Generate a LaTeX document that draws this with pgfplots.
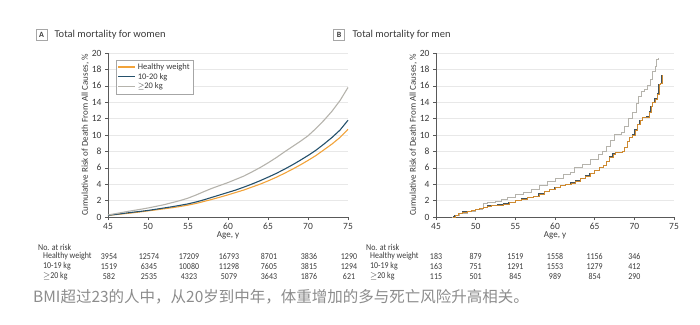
\documentclass[border=0pt]{standalone}
\usepackage{pgfplots}
\pgfplotsset{compat=1.18}
\usepackage{fontspec}
\setmainfont{Carlito}
\newfontfamily\condfont[FakeStretch=0.88]{Carlito}
\newfontfamily\cjk{Noto Sans CJK SC}
\definecolor{cHW}{HTML}{F2A33A}
\definecolor{cMid}{HTML}{24506B}
\definecolor{cHi}{HTML}{B5B3AC}
\definecolor{txt}{HTML}{3A3A3A}
\pgfplotsset{
  base/.style={
    scale only axis, width=240pt, height=164pt,
    xmin=45, xmax=75, ymin=0, ymax=20,
    xtick={45,50,...,75}, ytick={0,2,...,20},
    axis x line*=bottom, axis y line*=left,
    ymajorgrids, grid style={gray!18, line width=0.5pt},
    tick align=outside, major tick length=3pt,
    every tick/.style={gray!70!black, line width=0.5pt},
    axis line style={gray!70!black, line width=0.5pt},
    tick label style={font=\fontsize{9.5}{10}\selectfont, text=txt},
    /pgf/number format/assume math mode=true,
    xlabel={Age, y}, ylabel={Cumulative Risk of Death From All Causes, \%},
    label style={font=\fontsize{9}{10}\selectfont, text=txt},
    xlabel style={yshift=5pt},
    ylabel style={yshift=-4pt},
    clip=false,
  }
}
\begin{document}
\begin{tikzpicture}[x=1pt,y=1pt]
\path[use as bounding box] (0,0) rectangle (700,-324);
% Panel A
\begin{axis}[base, at={(108pt,-217pt)}, anchor=south west,
  legend style={at={(0.033,0.96)}, anchor=north west, draw=gray!70, font=\fontsize{8.5}{9}\selectfont, text=txt, inner sep=1.5pt, row sep=-1.5pt},
  legend cell align=left]
\addplot[cHW, line width=1.1pt] coordinates {(45,0.2)(46,0.3)(47,0.4)(48,0.5)(49,0.62)(50,0.75)(51,0.87)(52,1.0)(53,1.13)(54,1.28)(55,1.45)(56,1.65)(57,1.9)(58,2.15)(59,2.42)(60,2.7)(61,3.0)(62,3.3)(63,3.65)(64,4.0)(65,4.4)(66,4.83)(67,5.3)(68,5.8)(69,6.33)(70,6.9)(71,7.5)(72,8.2)(73,8.9)(74,9.7)(75,10.7)};
\addlegendentry{Healthy weight}
\addplot[cMid, line width=1.1pt] coordinates {(45,0.2)(46,0.32)(47,0.45)(48,0.57)(49,0.68)(50,0.8)(51,0.95)(52,1.1)(53,1.25)(54,1.42)(55,1.6)(56,1.83)(57,2.1)(58,2.4)(59,2.7)(60,3.0)(61,3.3)(62,3.65)(63,4.02)(64,4.42)(65,4.85)(66,5.3)(67,5.8)(68,6.33)(69,6.9)(70,7.5)(71,8.15)(72,8.9)(73,9.7)(74,10.6)(75,11.8)};
\addlegendentry{10-20 kg}
\addplot[cHi, line width=1.1pt] coordinates {(45,0.25)(46,0.42)(47,0.6)(48,0.77)(49,0.93)(50,1.1)(51,1.3)(52,1.5)(53,1.75)(54,2.0)(55,2.3)(56,2.68)(57,3.1)(58,3.5)(59,3.85)(60,4.2)(61,4.6)(62,5.0)(63,5.5)(64,6.02)(65,6.6)(66,7.22)(67,7.9)(68,8.55)(69,9.2)(70,9.9)(71,10.8)(72,11.8)(73,12.9)(74,14.2)(75,15.8)};
\addlegendentry{$\geq$20 kg}
\end{axis}
% Panel B
\begin{axis}[base, at={(436pt,-217pt)}, anchor=south west, width=238pt]
\addplot[cHi, line width=0.8pt, const plot] coordinates {(47.0,0)(47.3,0.2)(48,0.45)(49,0.65)(50,0.9)(50.8,1.1)(51.0,1.6)(51.5,1.8)(52.5,1.9)(53.2,2.1)(54,2.4)(55,2.7)(56,2.95)(57,3.4)(58,3.9)(59,4.3)(60,4.7)(61,5.2)(62,5.5)(62.5,6.0)(63.5,6.4)(64.5,7.0)(65.5,7.6)(66,8.0)(66.5,8.6)(67,9.3)(67.5,10.1)(68.4,10.3)(68.8,11.0)(69.3,12.0)(69.8,12.8)(70.2,13.8)(70.5,14.7)(70.9,15.3)(71.3,15.6)(71.6,16.0)(72,16.8)(72.3,17.8)(72.6,18.4)(72.8,19.2)(73.0,19.4)};
\addplot[cMid!50!black!80, line width=1.3pt, const plot] coordinates {(47.2,0)(47.4,0.2)(47.8,0.4)(48.3,0.6)(49,0.7)(49.5,0.8)(50,0.9)(50.5,1.0)(51,1.2)(51.5,1.35)(52,1.4)(52.8,1.45)(53.5,1.6)(54.2,1.8)(55,2.0)(55.8,2.2)(56.5,2.35)(57.3,2.5)(58,2.8)(58.7,3.1)(59.3,3.35)(60,3.6)(60.7,3.8)(61.3,4.0)(62,4.15)(62.6,4.4)(63.2,4.7)(63.8,5.0)(64.4,5.3)(65,5.7)(65.6,6.0)(66.1,6.3)(66.5,6.8)(66.9,7.3)(67.3,7.7)(67.6,7.9)(68.5,8.0)(68.8,8.5)(69.1,9.2)(69.4,9.7)(69.8,10.0)(70.1,10.6)(70.4,11.3)(70.7,11.8)(71.0,12.1)(71.6,12.2)(71.9,12.8)(72.1,13.5)(72.3,14.0)(72.6,14.4)(72.9,15.0)(73.1,16.2)(73.3,16.3)(73.5,17.3)};
\addplot[cHW!85!black, line width=0.7pt, const plot] coordinates {(47.2,0)(47.4,0.2)(47.8,0.4)(48.3,0.6)(49,0.7)(49.5,0.8)(50,0.9)(50.5,1.0)(51,1.2)(51.5,1.35)(52,1.4)(52.8,1.45)(53.5,1.6)(54.2,1.8)(55,2.0)(55.8,2.2)(56.5,2.35)(57.3,2.5)(58,2.8)(58.7,3.1)(59.3,3.35)(60,3.6)(60.7,3.8)(61.3,4.0)(62,4.15)(62.6,4.4)(63.2,4.7)(63.8,5.0)(64.4,5.3)(65,5.7)(65.6,6.0)(66.1,6.3)(66.5,6.8)(66.9,7.3)(67.3,7.7)(67.6,7.9)(68.5,8.0)(68.8,8.5)(69.1,9.2)(69.4,9.7)(69.8,10.0)(70.1,10.6)(70.4,11.3)(70.7,11.8)(71.0,12.1)(71.6,12.2)(71.9,12.8)(72.1,13.5)(72.3,14.0)(72.6,14.4)(72.9,15.0)(73.1,16.2)(73.3,16.3)(73.5,17.3)};
\end{axis}
% Panel titles
\node[draw=gray!70, line width=0.5pt, inner sep=1.2pt, minimum width=11pt, minimum height=11pt, font=\fontsize{8}{8}\selectfont\bfseries, text=txt] at (41.5,-35) {A};
\node[anchor=west, font=\fontsize{10.5}{11}\selectfont, text=txt] at (51,-35) {Total mortality for women};
\node[draw=gray!70, line width=0.5pt, inner sep=1.2pt, minimum width=11pt, minimum height=11pt, font=\fontsize{8}{8}\selectfont\bfseries, text=txt] at (339,-35) {B};
\node[anchor=west, font=\fontsize{10.5}{11}\selectfont, text=txt] at (349,-35) {Total mortality for men};
% Risk tables
\begin{scope}[every node/.style={font=\condfont\fontsize{9}{9}\selectfont, text=txt, inner sep=0pt}]
\node[anchor=west] at (38,-247) {No. at risk};
\node[anchor=west] at (43,-256.5) {Healthy weight};
\node[anchor=west] at (43,-266.5) {10-19 kg};
\node[anchor=west] at (43,-276.5) {$\geq$20 kg};
\foreach \v [count=\i from 0] in {3954,12574,17209,16793,8701,3836,1290}
  \node at (109+40*\i,-256.5) {\v};
\foreach \v [count=\i from 0] in {1519,6345,10080,11298,7605,3815,1294}
  \node at (109+40*\i,-266.5) {\v};
\foreach \v [count=\i from 0] in {582,2535,4323,5079,3643,1876,621}
  \node at (109+40*\i,-276.5) {\v};
\node[anchor=west] at (366,-247) {No. at risk};
\node[anchor=west] at (370,-256.5) {Healthy weight};
\node[anchor=west] at (370,-266.5) {10-19 kg};
\node[anchor=west] at (370,-276.5) {$\geq$20 kg};
\foreach \v [count=\i from 0] in {183,879,1519,1558,1156,346}
  \node at (436+39.67*\i,-256.5) {\v};
\foreach \v [count=\i from 0] in {163,751,1291,1553,1279,412}
  \node at (436+39.67*\i,-266.5) {\v};
\foreach \v [count=\i from 0] in {115,501,845,989,854,290}
  \node at (436+39.67*\i,-276.5) {\v};
\end{scope}
\node[anchor=west, font=\cjk\fontsize{15.5}{17}\selectfont, text=gray!90, inner sep=0pt] at (33,-297) {BMI超过23的人中，从20岁到中年，体重增加的多与死亡风险升高相关。};
\end{tikzpicture}
\end{document}
